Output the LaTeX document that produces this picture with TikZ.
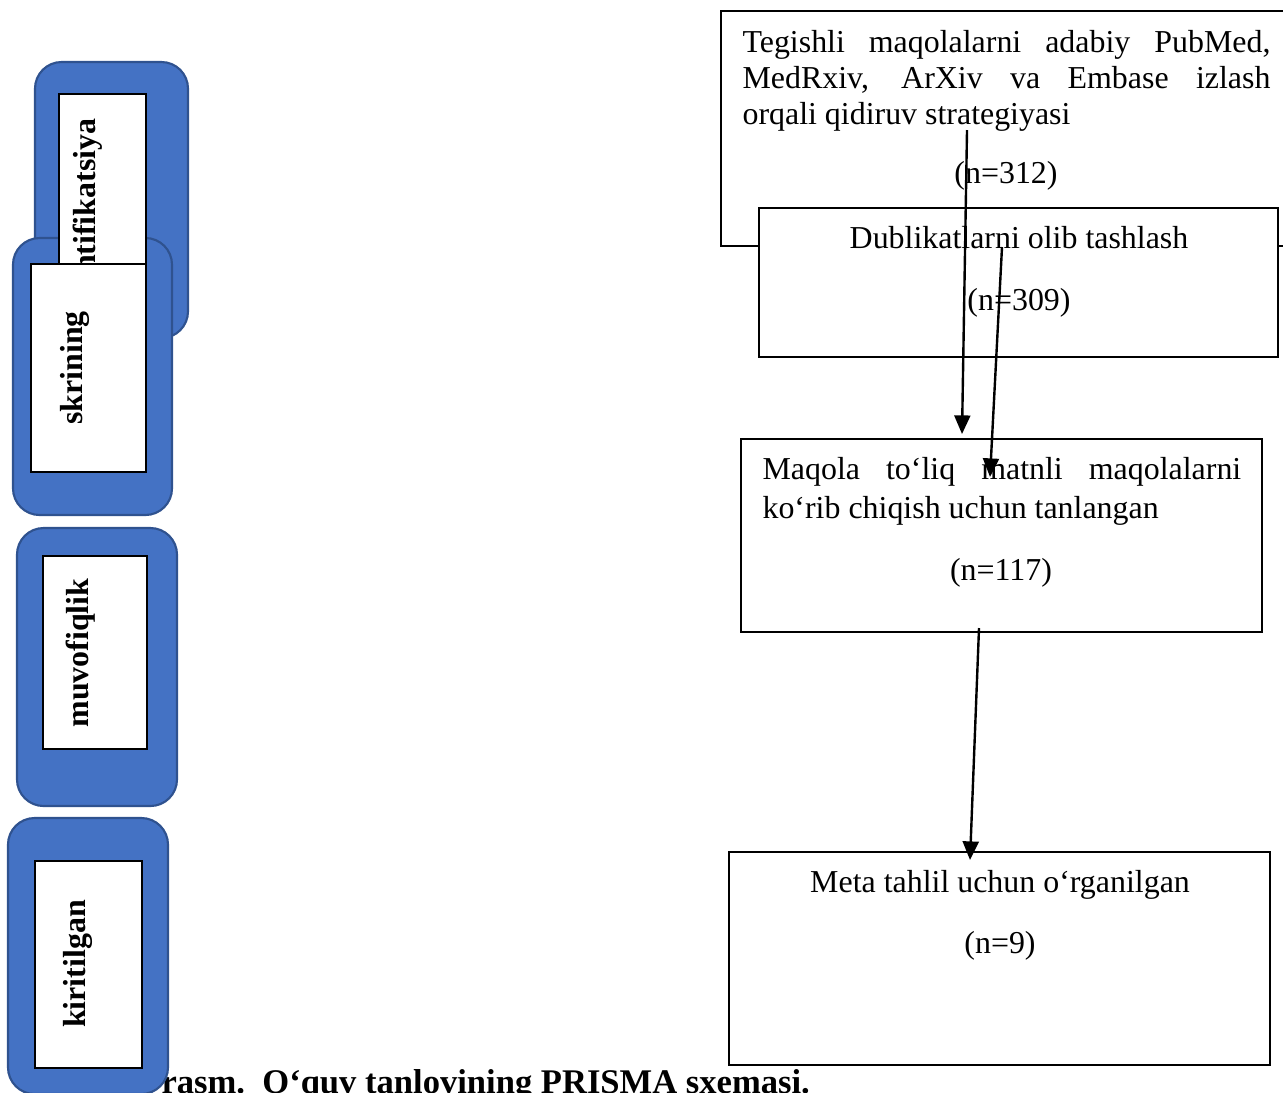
\documentclass[tikz,border=0pt]{standalone}
\usepackage{fontspec}
\setmainfont{Liberation Serif}
\usetikzlibrary{arrows.meta}

\definecolor{bosqichko}{HTML}{4472C4}
\definecolor{bosqichch}{HTML}{2F528F}

\tikzset{
    olcham/.style 2 args={minimum width=#1*0.376pt, minimum height=#2*0.376pt},
    bosqich/.style={draw=bosqichch, line width=0.8pt, fill=bosqichko, rounded corners=10pt, anchor=north west, inner sep=0pt, outer sep=0pt},
    ichki/.style={draw=black, line width=0.6pt, fill=white, anchor=north west, inner sep=0pt, outer sep=0pt},
    yozuv/.style={font=\fontsize{12}{14}\selectfont\bfseries, rotate=90, inner sep=0pt},
    quti/.style={draw=black, line width=0.5pt, fill=white, anchor=north west, inner sep=0pt, outer sep=0pt},
    matn/.style={font=\fontsize{12}{14}\selectfont, inner sep=0pt, anchor=base},
    strelka/.style={line width=0.9pt, -{Triangle[width=6pt,length=7pt]}}
}

\begin{document}
\begin{tikzpicture}[x=0.376pt, y=-0.376pt]
        \useasboundingbox (0,0) rectangle (1283,1092);
        \clip (0,0) rectangle (1283,1092);

        % Chap tomondagi ko'k bosqichlar
        \node[bosqich, olcham={153}{276}] (idKok) at (35,62) {};
        \node[bosqich, olcham={159}{277}] (skrKok) at (13,238) {};
        \node[ichki, olcham={87}{212}] (idOq) at (59,94) {};
        \node[yozuv] (idYoz) at (88,218) {Identifikatsiya};
        \node[ichki, olcham={115}{208}] (skrOq) at (31,264) {};
        \node[yozuv] (skrYoz) at (75,368) {skrining};

        \node[bosqich, olcham={160}{278}] (muvKok) at (17,528) {};
        \node[ichki, olcham={104}{193}] (muvOq) at (43,556) {};
        \node[yozuv] (muvYoz) at (81,653) {muvofiqlik};

        % Rasm nomi (chap qismi ko'k quti ostida)
        \node[font=\fontsize{13}{15}\selectfont\bfseries, inner sep=0pt, anchor=base west] (izoh) at (161,1093) {rasm.\ \ O‘quv tanlovining PRISMA sxemasi.};

        \node[bosqich, olcham={160}{276}] (kirKok) at (8,818) {};
        \node[ichki, olcham={107}{207}] (kirOq) at (35,861) {};
        \node[yozuv] (kirYoz) at (78,964) {kiritilgan};

        % O'ng tomondagi qutilar
        \node[quti, olcham={571}{235}] (qidiruv) at (721,11) {};
        \node[matn, anchor=base west, text width=198.5pt, align=justify, font=\fontsize{12}{13.6}\selectfont] (qidTxt) at (742,52) {Tegishli maqolalarni adabiy PubMed,\linebreak MedRxiv, ArXiv va Embase izlash\linebreak orqali qidiruv strategiyasi};
        \node[matn] (qidN) at (1006,183) {(n=312)};

        \node[quti, olcham={519}{149}] (dublikat) at (759,208) {};
        \node[matn] (dubTxt) at (1019,248) {Dublikatlarni olib tashlash};
        \node[matn] (dubN) at (1019,310) {(n=309)};

        \node[quti, olcham={521}{193}] (toliq) at (741,439) {};
        \node[matn, anchor=base west, text width=180pt, align=justify, font=\fontsize{12}{15}\selectfont] (tolTxt) at (762,479) {Maqola to‘liq matnli maqolalarni\linebreak ko‘rib chiqish uchun tanlangan};
        \node[matn] (tolN) at (1001,580) {(n=117)};

        \node[quti, olcham={541}{213}] (meta) at (729,852) {};
        \node[matn] (metTxt) at (1000,892) {Meta tahlil uchun o‘rganilgan};
        \node[matn] (metN) at (1000,953) {(n=9)};

        % Strelkalar uchlari
        \coordinate (s1bosh) at (967,130);
        \coordinate (s1oxir) at (962,434);
        \coordinate (s2bosh) at (1002,247);
        \coordinate (s2oxir) at (990,477);
        \coordinate (s3bosh) at (979,628);
        \coordinate (s3oxir) at (970,860);

        % Strelkalar
        \draw[strelka] (s1bosh)--(s1oxir);
        \draw[strelka] (s2bosh)--(s2oxir);
        \draw[strelka] (s3bosh)--(s3oxir);
\end{tikzpicture}
\end{document}
